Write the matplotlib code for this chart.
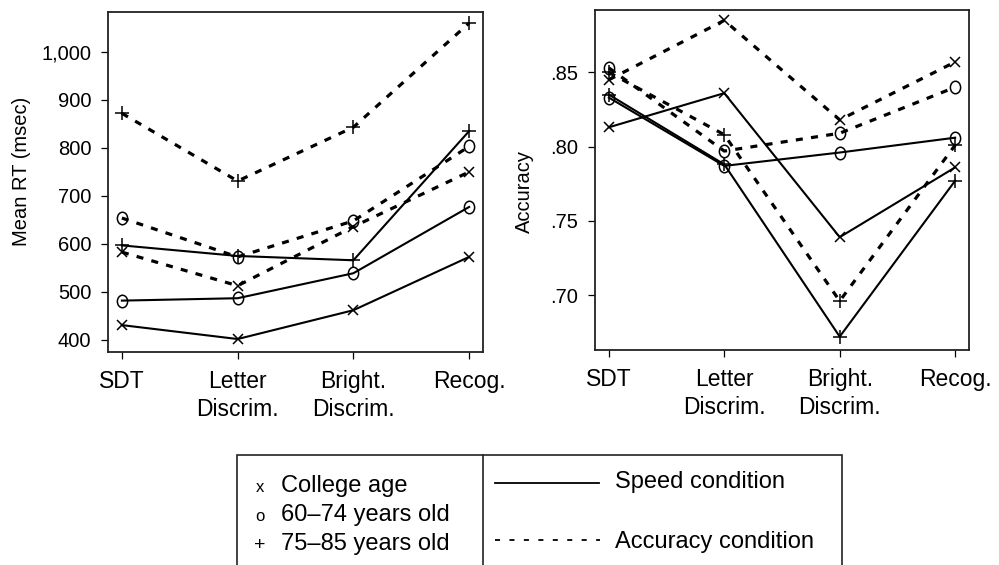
import matplotlib
matplotlib.use('Agg')
import matplotlib.pyplot as plt
from matplotlib.markers import MarkerStyle
from matplotlib.transforms import Affine2D
from matplotlib.lines import Line2D
from matplotlib.patches import Rectangle

plt.rcParams['font.family'] = ['Liberation Sans', 'DejaVu Sans']

# tasks on the x axis
categories = ['SDT', 'Letter\nDiscrim.', 'Bright.\nDiscrim.', 'Recog.']

# mean RT (msec)
rt_speed_college = [431, 402, 462, 573]
rt_speed_60 = [482, 487, 539, 677]
rt_speed_75 = [597, 575, 566, 835]
rt_acc_college = [583, 513, 636, 750]
rt_acc_60 = [654, 573, 648, 803]
rt_acc_75 = [872, 731, 843, 1060]

# accuracy
acc_speed_college = [.813, .836, .739, .786]
acc_speed_60 = [.833, .787, .796, .806]
acc_speed_75 = [.835, .788, .672, .777]
acc_acc_college = [.845, .885, .818, .857]
acc_acc_60 = [.853, .797, .809, .840]
acc_acc_75 = [.850, .808, .696, .801]

rt_ticks = [400, 500, 600, 700, 800, 900, 1000]
acc_ticks = [.70, .75, .80, .85]

W, H = 999, 565
fig = plt.figure(figsize=(W / 100, H / 100), dpi=100)

o_mark = MarkerStyle('o', fillstyle='none', transform=Affine2D().scale(0.82, 1.0))
marks = {'x': ('x', 7.5), 'o': (o_mark, 9), '+': ('+', 10.5)}
solid = dict(color='black', lw=1.5, ls='-')
dashed = dict(color='black', lw=2.3, ls=(0, (2.2, 2.6)))


def draw(ax, series):
    x = range(len(categories))
    for vals, m, style in series:
        mk, ms = marks[m]
        ax.plot(x, vals, marker=mk, ms=ms, mew=1.1, mec='black', mfc='none', **style)


def style_axes(ax, ticks, labels, ylim, ylabel, lab_x, lab_y):
    ax.set_xlim(-0.12, 3.12)
    ax.set_ylim(*ylim)
    ax.set_xticks(range(len(categories)))
    ax.set_xticklabels(categories, fontsize=16.5, linespacing=1.3)
    ax.set_yticks(ticks)
    ax.set_yticklabels(labels, fontsize=14.5)
    ax.set_ylabel(ylabel, fontsize=14.5)
    ax.yaxis.set_label_coords(lab_x, lab_y)
    ax.tick_params(direction='out', length=5, width=0.9)
    ax.tick_params(axis='x', pad=8)
    ax.tick_params(axis='y', pad=7)
    for s in ax.spines.values():
        s.set_linewidth(1.3)
        s.set_color('#222222')


ax1 = fig.add_axes([108 / W, 1 - 352 / H, 375 / W, 340 / H])
draw(ax1, [
    (rt_speed_college, 'x', solid), (rt_speed_60, 'o', solid), (rt_speed_75, '+', solid),
    (rt_acc_college, 'x', dashed), (rt_acc_60, 'o', dashed), (rt_acc_75, '+', dashed),
])
style_axes(ax1, rt_ticks, ['{:,}'.format(t) for t in rt_ticks], (375, 1083),
           'Mean RT (msec)', -0.205, 0.53)

ax2 = fig.add_axes([595 / W, 1 - 350 / H, 374 / W, 340 / H])
draw(ax2, [
    (acc_speed_college, 'x', solid), (acc_speed_60, 'o', solid), (acc_speed_75, '+', solid),
    (acc_acc_college, 'x', dashed), (acc_acc_60, 'o', dashed), (acc_acc_75, '+', dashed),
])
style_axes(ax2, acc_ticks, ['{:.2f}'.format(t)[1:] for t in acc_ticks], (0.663, 0.892),
           'Accuracy', -0.163, 0.465)


# legend box drawn in pixel coords of the figure
def fx(px):
    return px / W


def fy(py):
    return 1 - py / H


fig.add_artist(Rectangle((fx(237), fy(600)), fx(842) - fx(237), fy(455) - fy(600),
                         transform=fig.transFigure, fill=False, lw=1.2, ec='#222222'))
fig.add_artist(Line2D([fx(483), fx(483)], [fy(455), fy(600)], transform=fig.transFigure,
                      color='#222222', lw=1.2))

age_syms = ['x', 'o', '+']
age_labels = ['College age', '60\u201374 years old', '75\u201385 years old']
for i, (s, lab) in enumerate(zip(age_syms, age_labels)):
    yy = fy(492 + 29 * i)
    fig.text(fx(260), yy, s, fontsize=12 if s != '+' else 14, ha='center', va='baseline')
    fig.text(fx(281), yy, lab, fontsize=17, ha='left', va='baseline')

fig.add_artist(Line2D([fx(495), fx(599)], [fy(483), fy(483)], transform=fig.transFigure,
                      color='black', lw=1.3))
fig.add_artist(Line2D([fx(495), fx(600)], [fy(540), fy(540)], transform=fig.transFigure,
                      color='black', lw=1.3, ls=(0, (2.8, 5.2))))
fig.text(fx(615), fy(488), 'Speed condition', fontsize=17, ha='left', va='baseline')
fig.text(fx(615), fy(548), 'Accuracy condition', fontsize=17, ha='left', va='baseline')

fig.savefig('out.png', dpi=100)
